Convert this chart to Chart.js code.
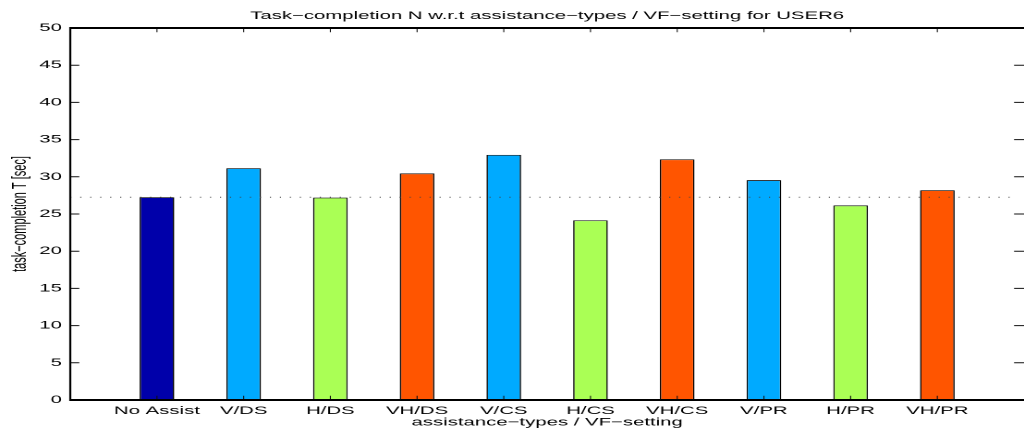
<!DOCTYPE html>
<html>
<head>
<meta charset="utf-8">
<script src="https://cdn.jsdelivr.net/npm/chart.js@4.4.1/dist/chart.umd.min.js"></script>
<style>
  html, body { margin: 0; padding: 0; background: #fff; overflow: hidden; }
  /* the original figure was stretched horizontally, so draw narrow and stretch */
  #wrap { width: 554px; height: 432px; transform: scaleX(1.8484); transform-origin: 0 0; overflow: hidden; }
</style>
</head>
<body>
<div id="wrap"><canvas id="chart" width="554" height="432"></canvas></div>
<script>
const categories = ["No Assist", "V/DS", "H/DS", "VH/DS", "V/CS", "H/CS", "VH/CS", "V/PR", "H/PR", "VH/PR"]
const completionTimes = [27.25, 31.15, 27.2, 30.45, 32.95, 24.15, 32.35, 29.55, 26.15, 28.2]
const referenceValue = completionTimes[0] // dotted line at the "No Assist" level
const xRange = [0, 11]
const yRange = [0, 50]
const yStep = 5

// colour per assistance type
const typeColors = { none: "#0000AA", V: "#00AAFF", H: "#AAFF55", VH: "#FF5500" }
function typeOf(cat) {
  return cat === "No Assist" ? "none" : cat.split("/")[0]
}

Chart.defaults.font.family = "'Liberation Sans', Arial, sans-serif"
Chart.defaults.color = "#000"

// axes box, inward tick marks and the dotted reference line
const axesFrame = {
  id: "axesFrame",
  afterDatasetsDraw(chart) {
    const { ctx, chartArea: a, scales: { x, y } } = chart
    ctx.save()

    ctx.strokeStyle = "#444"
    ctx.lineWidth = 1
    ctx.setLineDash([0.6, 4.8])
    const ry = y.getPixelForValue(referenceValue)
    ctx.beginPath()
    ctx.moveTo(x.getPixelForValue(xRange[0]), ry)
    ctx.lineTo(x.getPixelForValue(xRange[1]) - 4, ry)
    ctx.stroke()
    ctx.setLineDash([])

    ctx.strokeStyle = "#111"
    ctx.lineWidth = 1
    y.ticks.forEach((t) => {
      const py = y.getPixelForValue(t.value)
      ctx.beginPath()
      ctx.moveTo(a.left, py)
      ctx.lineTo(a.left + 4.9, py)
      ctx.moveTo(a.right - 5.4, py)
      ctx.lineTo(a.right, py)
      ctx.stroke()
    })
    ctx.lineWidth = 0.55
    x.ticks.forEach((t) => {
      if (t.value <= xRange[0] || t.value >= xRange[1]) return
      const px = x.getPixelForValue(t.value)
      ctx.beginPath()
      ctx.moveTo(px, a.top)
      ctx.lineTo(px, a.top + 4.3)
      ctx.moveTo(px, a.bottom)
      ctx.lineTo(px, a.bottom - 4.3)
      ctx.stroke()
    })

    ctx.strokeStyle = "#000"
    ctx.lineWidth = 2
    ctx.beginPath()
    ctx.moveTo(a.left, a.top)
    ctx.lineTo(a.right, a.top)
    ctx.moveTo(a.left, a.bottom)
    ctx.lineTo(a.right, a.bottom)
    ctx.stroke()
    ctx.lineWidth = 1.1
    ctx.beginPath()
    ctx.moveTo(a.left, a.top - 1)
    ctx.lineTo(a.left, a.bottom + 1)
    ctx.stroke()

    ctx.restore()
  },
}

new Chart(document.getElementById("chart"), {
  type: "bar",
  data: {
    datasets: [
      {
        data: categories.map((c, i) => ({ x: i + 1, y: completionTimes[i] })),
        backgroundColor: categories.map((c) => typeColors[typeOf(c)]),
        borderColor: "#000",
        borderWidth: 0.8,
        borderSkipped: "start",
        barPercentage: 0.4,
        categoryPercentage: 1,
      },
    ],
  },
  options: {
    responsive: false,
    animation: false,
    devicePixelRatio: 2,
    layout: { padding: 0 },
    plugins: {
      legend: { display: false },
      tooltip: { enabled: false },
      title: {
        display: true,
        fullSize: false,
        text: "Task\u2212completion N w.r.t assistance\u2212types / VF\u2212setting for USER6",
        font: { size: 11, weight: "normal" },
        color: "#000",
        padding: { top: 9.4, bottom: 5.4 },
      },
    },
    scales: {
      x: {
        type: "linear",
        offset: false,
        min: xRange[0],
        max: xRange[1],
        grid: { display: false, drawTicks: false, offset: false },
        border: { display: false },
        ticks: {
          stepSize: 1,
          autoSkip: false,
          maxRotation: 0,
          padding: 4.5,
          font: { size: 11 },
          callback: (v) => categories[v - 1] || "",
        },
        title: {
          display: true,
          text: "assistance\u2212types / VF\u2212setting",
          font: { size: 11 },
          padding: { top: 0, bottom: 3 },
        },
        afterFit: (s) => {
          s.height = 32
          // the axes run to the right edge of the figure
          s.paddingLeft = 0
          s.paddingRight = 0
        },
      },
      y: {
        min: yRange[0],
        max: yRange[1],
        grid: { display: false, drawTicks: false },
        border: { display: false },
        ticks: { stepSize: yStep, padding: 4.5, font: { size: 11 } },
        title: {
          display: true,
          text: "task\u2212completion T [sec]",
          font: { size: 11 },
          padding: { top: 4.5, bottom: 0 },
        },
        afterFit: (s) => { s.width = 38 },
      },
    },
  },
  plugins: [axesFrame],
})
</script>
</body>
</html>
